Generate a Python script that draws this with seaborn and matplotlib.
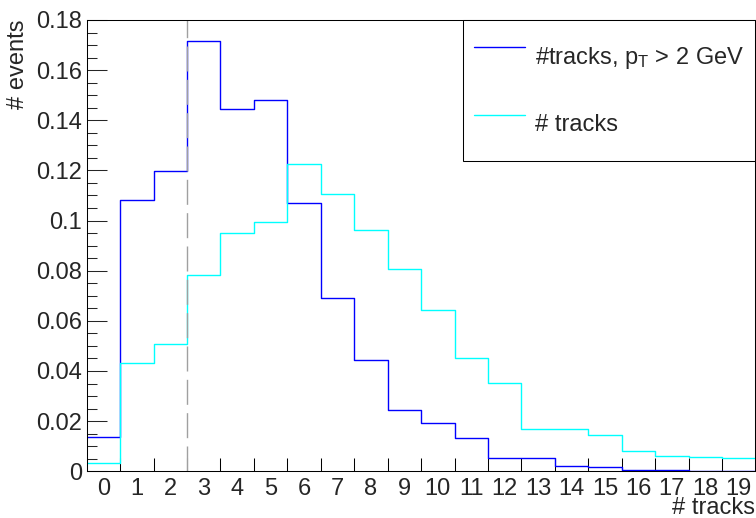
import numpy as np
import pandas as pd
import seaborn as sns
import matplotlib.pyplot as plt

# bin contents (normalised histograms, one bin per track count)
n_tracks = list(range(20))
frac_pt2 = [0.0138, 0.1083, 0.1196, 0.1718, 0.1444, 0.1482, 0.1072, 0.0691, 0.0444, 0.0246,
            0.0193, 0.0132, 0.0052, 0.0052, 0.0020, 0.0017, 0.0004, 0.0005, 0.0003, 0.0001]
frac_all = [0.0034, 0.0432, 0.0507, 0.0784, 0.0949, 0.0994, 0.1226, 0.1107, 0.0963, 0.0805,
            0.0645, 0.0450, 0.0352, 0.0168, 0.0170, 0.0146, 0.0081, 0.0062, 0.0058, 0.0052]
labels = ['#tracks, p$_\\mathrm{T}$ > 2 GeV', '# tracks']
cut = 2.5

sns.set_style('ticks')
plt.rcParams['font.family'] = ['Liberation Sans', 'DejaVu Sans']
plt.rcParams['mathtext.fontset'] = 'custom'
plt.rcParams['mathtext.rm'] = 'Liberation Sans'
plt.rcParams['mathtext.it'] = 'Liberation Sans:italic'

df = pd.DataFrame({'n': n_tracks, 'pt2': frac_pt2, 'all': frac_all})
edges = np.arange(-0.5, 20.5, 1)

fig, ax = plt.subplots(figsize=(7.56, 5.18), dpi=100)
fig.subplots_adjust(left=0.1147, right=0.9993, bottom=0.0902, top=0.9614)

sns.histplot(data=df, x='n', weights='pt2', discrete=True, element='step', fill=False,
             color='#0000ff', linewidth=1.0, ax=ax)
sns.histplot(data=df, x='n', weights='all', discrete=True, element='step', fill=False,
             color='#00ffff', linewidth=1.0, ax=ax)
ax.axvline(cut, color='#a0a0a0', linestyle=(0, (18, 6)), linewidth=1.0)

ax.set_xlim(-0.5, 19.5)
ax.set_ylim(0, 0.18)

# x: labels at bin centres, tick marks at bin edges
ax.set_xticks(n_tracks)
ax.set_xticklabels([str(n) for n in n_tracks])
ax.set_xticks(edges[1:-1], minor=True)
ax.tick_params(axis='x', which='major', length=0, pad=4.5, labelsize=17)
ax.tick_params(axis='x', which='minor', direction='in', length=9.4, width=0.75, color='black')

yt = np.arange(0, 0.181, 0.02)
ax.set_yticks(yt)
ax.set_yticklabels([f'{v:g}' for v in yt])
ax.set_yticks(np.arange(0, 0.1801, 0.005), minor=True)
ax.tick_params(axis='y', which='major', direction='in', length=14.4, width=0.75, pad=3.4,
               labelsize=17)
ax.tick_params(axis='y', which='minor', direction='in', length=7.2, width=0.75)

for s in ax.spines.values():
    s.set_linewidth(0.75)
    s.set_color('black')

ax.set_xlabel('# tracks', loc='right', fontsize=17, labelpad=-2)
ax.set_ylabel('# events', loc='top', fontsize=17, labelpad=5)

ax.legend(handles=ax.lines[:2], labels=labels, loc='upper right', bbox_to_anchor=(1, 1),
          borderaxespad=0, fontsize=17, frameon=True, fancybox=False, shadow=False,
          edgecolor='black', framealpha=1, borderpad=0.47, handleheight=2.95,
          labelspacing=0.7, handlelength=2.16, handletextpad=0.42)
ax.get_legend().get_frame().set_linewidth(0.75)

fig.savefig('out.png', dpi=100)
